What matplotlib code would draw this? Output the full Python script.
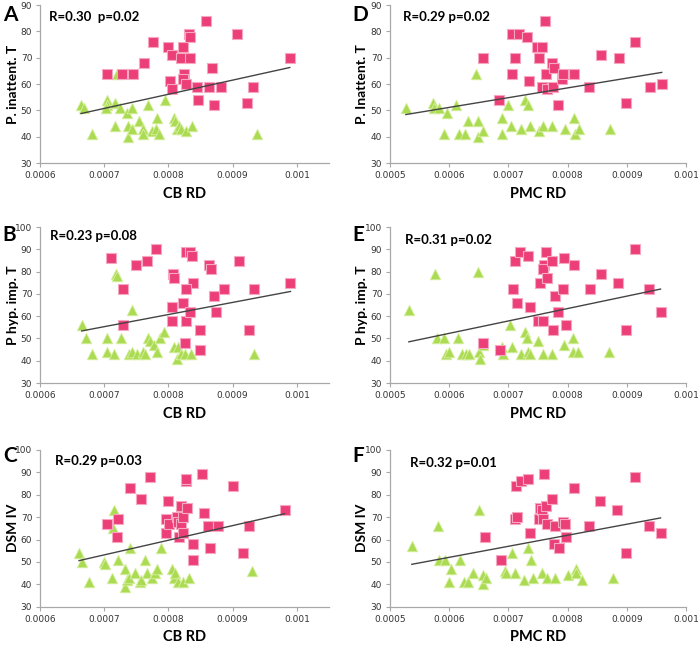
import numpy as np
import matplotlib
matplotlib.use("Agg")
import matplotlib.pyplot as plt

# ---- data (x = RD, y = score) ----
# A: CB RD vs P. inattent. T
a_pink_x = [0.000704, 0.000728, 0.000745, 0.000762, 0.000776, 0.000800, 0.000805, 0.000802, 0.000806,
            0.000819, 0.000823, 0.000824, 0.000823, 0.000828, 0.000832, 0.000833, 0.000834, 0.000845,
            0.000846, 0.000859, 0.000863, 0.000868, 0.000871, 0.000882, 0.000907, 0.000923, 0.000932, 0.000989]
a_pink_y = [64, 64, 64, 68, 76, 74, 71, 61, 58, 70, 74, 64, 62, 60, 79, 78, 70, 59, 54, 84, 59, 66, 52, 59, 79, 53, 59, 70]
a_green_x = [0.000664, 0.000668, 0.000681, 0.000704, 0.000704, 0.000703, 0.000717, 0.000717, 0.000720, 0.000725,
             0.000735, 0.000737, 0.000737, 0.000744, 0.000744, 0.000754, 0.000761, 0.000761, 0.000769, 0.000775,
             0.000780, 0.000783, 0.000786, 0.000794, 0.000809, 0.000811, 0.000813, 0.000816, 0.000819, 0.000828,
             0.000837, 0.000938]
a_green_y = [52, 51, 41, 54, 52, 51, 44, 53, 64, 51, 49, 44, 40, 51, 43, 46, 43, 41, 52, 42, 43, 47, 41, 54, 47, 46,
             43, 44, 43, 42, 44, 41]

# B: CB RD vs P hyp. imp. T
b_pink_x = [0.000710, 0.000730, 0.000730, 0.000750, 0.000767, 0.000781, 0.000807, 0.000809, 0.000806, 0.000806,
            0.000823, 0.000827, 0.000834, 0.000836, 0.000838, 0.000828, 0.000828, 0.000834, 0.000826, 0.000849,
            0.000849, 0.000863, 0.000866, 0.000871, 0.000874, 0.000886, 0.000910, 0.000926, 0.000934, 0.000990]
b_pink_y = [86, 72, 56, 83, 85, 90, 79, 77, 64, 58, 66, 89, 89, 87, 75, 72, 58, 62, 48, 54, 45, 83, 81, 69, 62, 72,
            85, 54, 72, 75]
b_green_x = [0.000665, 0.000672, 0.000681, 0.000704, 0.000704, 0.000716, 0.000719, 0.000720, 0.000726, 0.000738,
             0.000743, 0.000744, 0.000751, 0.000761, 0.000763, 0.000769, 0.000772, 0.000777, 0.000783, 0.000787,
             0.000793, 0.000809, 0.000813, 0.000815, 0.000820, 0.000826, 0.000835, 0.000934]
b_green_y = [56, 50, 43, 50, 44, 43, 79, 78, 50, 43, 44, 63, 43, 44, 43, 50, 49, 47, 44, 50, 53, 46, 41, 46, 43, 43,
             43, 43]

# C: CB RD vs DSM IV
c_pink_x = [0.000704, 0.000722, 0.000720, 0.000740, 0.000757, 0.000772, 0.000799, 0.000796, 0.000797, 0.000801,
            0.000813, 0.000815, 0.000817, 0.000819, 0.000820, 0.000822, 0.000827, 0.000828, 0.000829, 0.000823,
            0.000839, 0.000839, 0.000853, 0.000856, 0.000862, 0.000865, 0.000877, 0.000900, 0.000916, 0.000925,
            0.000981]
c_pink_y = [67, 69, 61, 83, 78, 88, 77, 69, 63, 67, 70, 68, 61, 75, 67, 70, 86, 87, 74, 63, 58, 51, 89, 72, 66, 56,
            66, 84, 54, 66, 73]
c_green_x = [0.000661, 0.000666, 0.000677, 0.000700, 0.000701, 0.000712, 0.000714, 0.000715, 0.000721, 0.000733,
             0.000733, 0.000735, 0.000738, 0.000740, 0.000748, 0.000756, 0.000757, 0.000764, 0.000767, 0.000775,
             0.000779, 0.000782, 0.000789, 0.000805, 0.000808, 0.000811, 0.000815, 0.000823, 0.000832, 0.000930]
c_green_y = [54, 50, 41, 50, 49, 43, 65, 73, 51, 47, 39, 42, 43, 56, 45, 41, 42, 51, 45, 43, 45, 47, 56, 47, 43, 45,
             41, 41, 43, 46]

# D: PMC RD vs P. Inattent. T
d_pink_x = [0.000657, 0.000685, 0.000707, 0.000707, 0.000711, 0.000718, 0.000731, 0.000735, 0.000749, 0.000756,
            0.000752, 0.000756, 0.000762, 0.000763, 0.000765, 0.000774, 0.000777, 0.000776, 0.000784, 0.000790,
            0.000793, 0.000811, 0.000837, 0.000856, 0.000887, 0.000899, 0.000914, 0.000940, 0.000959]
d_pink_y = [70, 54, 79, 64, 70, 79, 78, 61, 74, 74, 70, 59, 84, 64, 58, 68, 66, 59, 52, 62, 64, 64, 59, 71, 70, 53,
            76, 59, 60]
d_green_x = [0.000527, 0.000573, 0.000574, 0.000583, 0.000591, 0.000596, 0.000611, 0.000617, 0.000627, 0.000632,
             0.000645, 0.000648, 0.000649, 0.000657, 0.000689, 0.000689, 0.000700, 0.000705, 0.000721, 0.000728,
             0.000733, 0.000736, 0.000752, 0.000759, 0.000773, 0.000796, 0.000811, 0.000813, 0.000820, 0.000872]
d_green_y = [51, 53, 51, 51, 41, 49, 52, 41, 41, 46, 64, 40, 46, 42, 47, 41, 52, 44, 43, 54, 52, 44, 42, 44, 44, 43,
             47, 41, 43, 43]

# E: PMC RD vs P hyp. imp. T
e_pink_x = [0.000657, 0.000686, 0.000711, 0.000708, 0.000714, 0.000719, 0.000733, 0.000736, 0.000750, 0.000753,
            0.000759, 0.000760, 0.000759, 0.000764, 0.000766, 0.000774, 0.000778, 0.000776, 0.000784, 0.000792,
            0.000794, 0.000798, 0.000811, 0.000838, 0.000856, 0.000886, 0.000899, 0.000914, 0.000938, 0.000957]
e_pink_y = [48, 45, 85, 72, 66, 89, 87, 64, 58, 75, 58, 83, 81, 89, 77, 85, 69, 54, 62, 72, 86, 56, 83, 72, 79, 75,
            54, 90, 72, 62]
e_green_x = [0.000532, 0.000577, 0.000579, 0.000591, 0.000594, 0.000600, 0.000615, 0.000621, 0.000628, 0.000634,
             0.000648, 0.000651, 0.000652, 0.000657, 0.000689, 0.000691, 0.000702, 0.000706, 0.000721, 0.000728,
             0.000732, 0.000734, 0.000737, 0.000750, 0.000759, 0.000773, 0.000794, 0.000809, 0.000809, 0.000818,
             0.000870]
e_green_y = [63, 79, 50, 50, 43, 44, 50, 43, 43, 43, 80, 44, 41, 47, 46, 43, 56, 46, 43, 53, 50, 44, 43, 49, 43, 43,
             47, 50, 44, 44, 44]

# F: PMC RD vs DSM IV
f_pink_x = [0.000660, 0.000688, 0.000713, 0.000711, 0.000714, 0.000721, 0.000733, 0.000736, 0.000751, 0.000753,
            0.000756, 0.000759, 0.000761, 0.000764, 0.000766, 0.000774, 0.000777, 0.000778, 0.000785, 0.000792,
            0.000795, 0.000797, 0.000811, 0.000836, 0.000855, 0.000884, 0.000898, 0.000914, 0.000937, 0.000957]
f_pink_y = [61, 51, 84, 69, 70, 86, 87, 63, 69, 74, 73, 69, 89, 75, 67, 78, 58, 66, 56, 68, 67, 61, 83, 66, 77, 73,
            54, 88, 66, 63]
f_green_x = [0.000537, 0.000582, 0.000583, 0.000593, 0.000599, 0.000604, 0.000619, 0.000625, 0.000632, 0.000640,
             0.000651, 0.000657, 0.000657, 0.000662, 0.000694, 0.000696, 0.000707, 0.000711, 0.000726, 0.000734,
             0.000738, 0.000742, 0.000756, 0.000765, 0.000779, 0.000800, 0.000815, 0.000815, 0.000824, 0.000876]
f_green_y = [57, 66, 51, 51, 41, 47, 51, 41, 41, 45, 73, 44, 40, 43, 46, 45, 54, 45, 42, 56, 51, 43, 45, 43, 43, 44,
             47, 45, 42, 43]

letters = ["A", "B", "C", "D", "E", "F"]
stats = ["R=0.30  p=0.02", "R=0.23 p=0.08", "R=0.29 p=0.03", "R=0.29 p=0.02", "R=0.31 p=0.02", "R=0.32 p=0.01"]
ylabels = ["P. inattent. T", "P hyp. imp. T", "DSM IV", "P. Inattent. T", "P hyp. imp. T", "DSM IV"]
xlabels = ["CB RD", "CB RD", "CB RD", "PMC RD", "PMC RD", "PMC RD"]
xticks_cb = [0.0006, 0.0007, 0.0008, 0.0009, 0.001]
xticks_pmc = [0.0005, 0.0006, 0.0007, 0.0008, 0.0009, 0.001]

panels = [
    (a_pink_x, a_pink_y, a_green_x, a_green_y),
    (b_pink_x, b_pink_y, b_green_x, b_green_y),
    (c_pink_x, c_pink_y, c_green_x, c_green_y),
    (d_pink_x, d_pink_y, d_green_x, d_green_y),
    (e_pink_x, e_pink_y, e_green_x, e_green_y),
    (f_pink_x, f_pink_y, f_green_x, f_green_y),
]

# layout (figure fractions / axes fractions)
rows = [(0.748, 0.244), (0.408, 0.241), (0.062, 0.243)]
cols = [(0.057, 0.413), (0.557, 0.423)]
letter_x = [0.004, 0.503]
letter_top = [0.992, 0.653, 0.31]
ylab_x = [-0.072, -0.074]
stat_pos = [(0.03, 0.924), (0.035, 0.942), (0.052, 0.93), (0.044, 0.924), (0.05, 0.917), (0.068, 0.917)]

BOLD = dict(family="Lato", fontweight="bold")

fig = plt.figure(figsize=(7, 6.47), dpi=100)

for i, (px, py, gx, gy) in enumerate(panels):
    col, row = divmod(i, 3)
    left, width = cols[col]
    bottom, height = rows[row]
    ax = fig.add_axes([left, bottom, width, height])

    ax.scatter(gx, gy, marker="^", s=58, color="#abdb52", edgecolors="#d8f0a4", linewidths=0.6, zorder=3)
    ax.scatter(px, py, marker="s", s=58, color="#ec3f78", edgecolors="#f6a8c3", linewidths=0.8, zorder=4)

    # least squares trend over all points
    allx = np.array(px + gx)
    ally = np.array(py + gy)
    slope, icpt = np.polyfit(allx, ally, 1)
    xs = np.array([allx.min(), allx.max()])
    ax.plot(xs, slope * xs + icpt, color="#444444", lw=1.0, zorder=5)

    if col == 0:
        ax.set_xlim(0.0006, 0.00105)
        ax.set_xticks(xticks_cb)
        ax.set_xticklabels([f"{t:g}" for t in xticks_cb])
    else:
        ax.set_xlim(0.0005, 0.001)
        ax.set_xticks(xticks_pmc)
        ax.set_xticklabels([f"{t:g}" for t in xticks_pmc])
    if i in (0, 3):
        ax.set_ylim(30, 90)
        ax.set_yticks(range(30, 91, 10))
    else:
        ax.set_ylim(30, 100)
        ax.set_yticks(range(30, 101, 10))

    for s in ["top", "right"]:
        ax.spines[s].set_visible(False)
    for s in ["left", "bottom"]:
        ax.spines[s].set_color("#a8a8a8")
        ax.spines[s].set_linewidth(0.9)
    ax.tick_params(length=3, width=0.8, color="#a8a8a8", labelsize=6.5, labelcolor="#333333", pad=2.5)

    ax.set_xlabel(xlabels[i], fontsize=10.5, labelpad=5, **BOLD)
    ax.set_ylabel(ylabels[i], fontsize=10, **BOLD)
    ax.yaxis.set_label_coords(ylab_x[col], 0.5)
    sx, sy = stat_pos[i]
    ax.text(sx, sy, stats[i], transform=ax.transAxes, fontsize=9.5, va="center", **BOLD)

    fig.text(letter_x[col], letter_top[row], letters[i], fontsize=15, va="top", **BOLD)

fig.savefig("out.png", dpi=100)
